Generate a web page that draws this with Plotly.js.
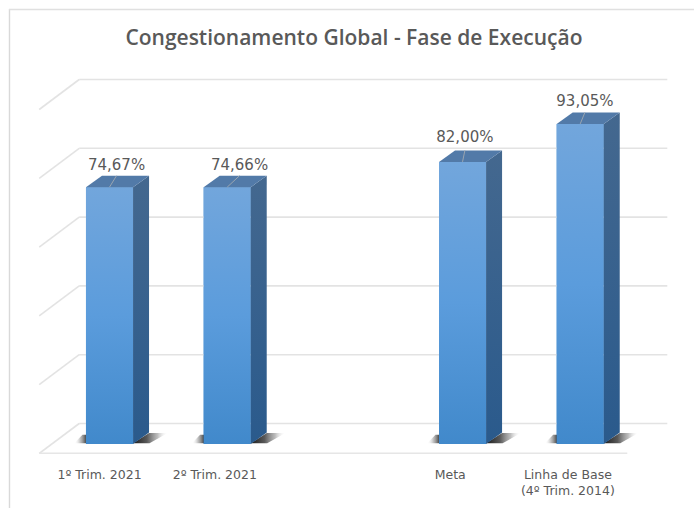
<!DOCTYPE html>
<html><head><meta charset="utf-8">
<script src="https://cdn.plot.ly/plotly-3.0.1.min.js"></script>
<style>html,body{margin:0;padding:0;background:#fff}#c{width:694px;height:508px}</style></head>
<body><div id="c"></div>
<script>
const categories = ['1º Trim. 2021','2º Trim. 2021','Meta','Linha de Base<br>(4º Trim. 2014)'];
const slots = [0,1,3,4];
const values = [74.67,74.66,82.00,93.05];
const labels = ['74,67%','74,66%','82,00%','93,05%'];
const gridLevels = [0,20,40,60,80,100];
const titleText = 'Congestionamento Global - Fase de Execução';

// axis scale: 117.67 px per slot, 3.44 px per percent
const halfW = 0.2, depthX = 16/117.67, depthY = 11.5/3.44;
const frontX0 = -0.5975, frontX1 = 4.4, wallDX = 40/117.67, wallBase = 5.96, floorBase = -2.76;
const labelShift = [0.06,0.105,0.02,0.04];
const labelLift = [0.5,0.7,1.3,0.7];
const tickShift = [-0.085,-0.105,-0.105,-0.105];

function poly(xs, ys, fill, extra){
  return Object.assign({type:'scatter',mode:'lines',x:xs,y:ys,fill:'toself',fillcolor:fill,line:{width:0},hoverinfo:'skip',showlegend:false},extra||{});
}
function line(xs, ys, color, width){
  return {type:'scatter',mode:'lines',x:xs,y:ys,line:{color:color,width:width},hoverinfo:'skip',showlegend:false};
}
const traces = [];
gridLevels.forEach(g=>{
  traces.push(line([frontX0+wallDX,frontX1+wallDX],[wallBase+g,wallBase+g],'#e3e3e3',1.6));
  traces.push(line([frontX0,frontX0+wallDX],[floorBase+g,wallBase+g],'#e3e3e3',1.6));
});
traces.push(line([frontX0,frontX1],[floorBase,floorBase],'#e6e6e6',2.2));
// shadows
slots.forEach(s=>{
  traces.push(poly([s+halfW,s+halfW+depthX,s+halfW+depthX+0.16,s+halfW+0.14,s+halfW],[0.2,depthY*0.95,depthY*0.95,0.2,0.2],'rgba(40,40,40,0.75)',{
    fillgradient:{type:'horizontal',colorscale:[[0,'rgba(25,25,25,1)'],[0.4,'rgba(60,60,60,0.85)'],[0.7,'rgba(120,120,120,0.5)'],[1,'rgba(255,255,255,0)']]}}));
  traces.push(poly([s-halfW-0.1,s-halfW-0.03,s-halfW+0.05,s-halfW+0.05,s-halfW-0.1],[0.2,depthY*0.8,depthY*0.8,0.2,0.2],'rgba(40,40,40,0.6)',{
    fillgradient:{type:'horizontal',colorscale:[[0,'rgba(255,255,255,0)'],[0.35,'rgba(130,130,130,0.5)'],[0.66,'rgba(60,60,60,0.9)'],[1,'rgba(30,30,30,1)']]}}));
});
// front faces as real bars
traces.push({type:'bar',x:slots,y:values,width:2*halfW,marker:{color:'#5b9bd5',line:{width:0}},hoverinfo:'skip',showlegend:false});
slots.forEach((s,i)=>{
  const v=values[i];
  traces.push(poly([s-halfW,s+halfW,s+halfW,s-halfW,s-halfW],[0,0,v,v,0],'#5b9bd5',{
    fillgradient:{type:'vertical',colorscale:[[0,'#4189cb'],[0.5,'#5b9cdc'],[1,'#72a6dc']]}}));
  traces.push(poly([s+halfW,s+halfW+depthX,s+halfW+depthX,s+halfW,s+halfW],[0,depthY,v+depthY,v,0],'#35608f',{
    fillgradient:{type:'vertical',colorscale:[[0,'#2a5a8c'],[1,'#44688f']]}}));
  traces.push(poly([s-halfW,s+halfW,s+halfW+depthX,s-halfW+depthX,s-halfW],[v,v,v+depthY,v+depthY,v],'#527aa8'));
  traces.push(line([s,s+labelShift[i]],[v,v+depthY],'#9aa5b0',1));
});
traces.push({type:'scatter',mode:'text',x:slots.map((s,i)=>s+labelShift[i]),y:values.map((v,i)=>v+depthY+labelLift[i]),text:labels,textposition:'top center',
  textfont:{family:'DejaVu Sans',size:15,color:'#595959'},hoverinfo:'skip',showlegend:false,cliponaxis:false});

const plotH = 454;
const layout = {
  width:694,height:508,paper_bgcolor:'#fff',plot_bgcolor:'rgba(0,0,0,0)',
  margin:{l:0,r:0,t:0,b:54},showlegend:false,barmode:'overlay',
  title:{text:titleText,font:{family:'Open Sans',size:21,color:'#595959',weight:600},x:0.51,xanchor:'center',xref:'paper',y:0.925,yanchor:'middle'},
  xaxis:{range:[-0.9306,4.967],tickmode:'array',tickvals:slots.map((s,i)=>s+tickShift[i]),ticktext:categories,showgrid:false,zeroline:false,showline:false,
    ticks:'outside',ticklen:9,tickcolor:'rgba(0,0,0,0)',tickfont:{family:'DejaVu Sans',size:12.5,color:'#595959'}},
  yaxis:{range:[-2.907,129.07],showgrid:false,zeroline:false,showline:false,showticklabels:false,ticks:''},
  shapes:[
    {type:'line',xref:'paper',yref:'paper',x0:9.5/694,x1:9.5/694,y0:-54/plotH,y1:1-9/plotH,line:{color:'#d9d9d9',width:1.4}},
    {type:'line',xref:'paper',yref:'paper',x0:9/694,x1:1,y0:1-9.5/plotH,y1:1-9.5/plotH,line:{color:'#e0e0e0',width:1.4}}
  ]
};
Plotly.newPlot('c',traces,layout,{displayModeBar:false,staticPlot:true});
</script></body></html>
